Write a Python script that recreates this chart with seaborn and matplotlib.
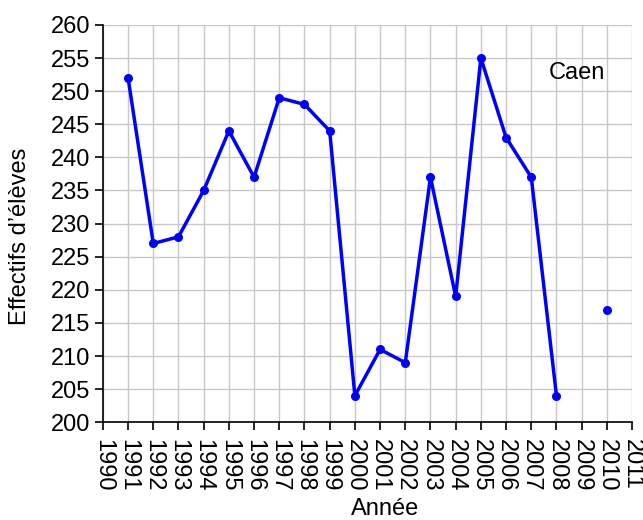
import numpy as np
import pandas as pd
import matplotlib
matplotlib.use("Agg")
import matplotlib.pyplot as plt
import seaborn as sns

# Effectifs d'élèves — Caen (no value for 2009)
annees = [1991, 1992, 1993, 1994, 1995, 1996, 1997, 1998, 1999, 2000,
          2001, 2002, 2003, 2004, 2005, 2006, 2007, 2008, 2010]
effectifs = [252, 227, 228, 235, 244, 237, 249, 248, 244, 204,
             211, 209, 237, 219, 255, 243, 237, 204, 217]
# line breaks where a year is missing
segments = [0] * 18 + [1]

x_ticks = list(range(1990, 2012))
y_ticks = list(range(200, 261, 5))

df = pd.DataFrame({"annee": annees, "effectif": effectifs, "seg": segments})

sns.set_style("white")
plt.rcParams["font.family"] = ["Liberation Sans", "DejaVu Sans"]
plt.rcParams["text.color"] = "black"
plt.rcParams["axes.labelcolor"] = "black"

fig = plt.figure(figsize=(6.43, 5.20), dpi=100)
ax = fig.add_axes([0.160, 0.188, 0.823, 0.764])

sns.lineplot(data=df, x="annee", y="effectif", units="seg", estimator=None,
             color="#0000ff", linewidth=2.5, marker="o", markersize=6.5,
             markeredgewidth=0, ax=ax)

ax.set_xlim(1990, 2011)
ax.set_ylim(200, 260)
ax.set_xticks(x_ticks)
ax.set_yticks(y_ticks)
ax.set_xticklabels([str(t) for t in x_ticks], rotation=270, fontsize=17)
ax.set_yticklabels([str(t) for t in y_ticks], fontsize=17)
ax.grid(True, color="#c8c8c8", linewidth=1)
ax.set_axisbelow(True)

for side in ["top", "right"]:
    ax.spines[side].set_visible(False)
for side in ["left", "bottom"]:
    ax.spines[side].set_color("black")
    ax.spines[side].set_linewidth(1.2)
ax.tick_params(axis="both", direction="out", length=6, width=1.2,
               color="black", labelcolor="black", bottom=True, left=True)
ax.tick_params(axis="x", pad=6)
ax.tick_params(axis="y", pad=3)

ax.set_xlabel("Année", fontsize=17)
ax.set_ylabel("Effectifs d\u2019élèves", fontsize=17)
ax.xaxis.set_label_coords(0.533, -0.19)
ax.yaxis.set_label_coords(-0.136, 0.468)
ax.text(2008.82, 252.8, "Caen", fontsize=17, ha="center", va="center")

fig.savefig("out.png", dpi=100)
